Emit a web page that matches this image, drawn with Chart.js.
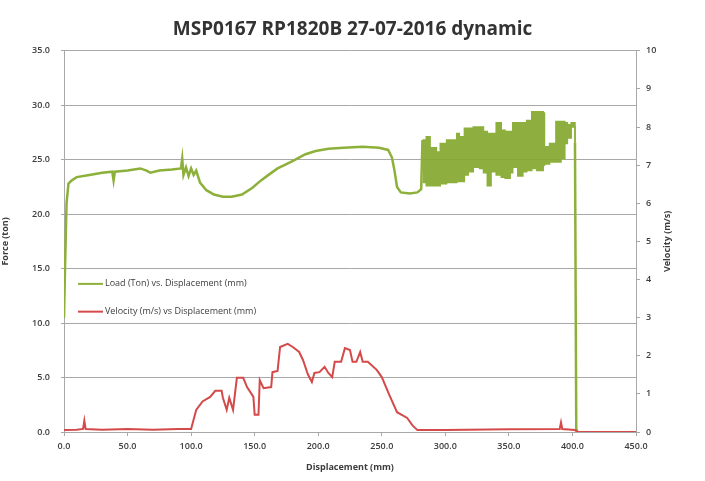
<!DOCTYPE html>
<html>
<head>
<meta charset="utf-8">
<script src="https://cdn.jsdelivr.net/npm/chart.js@4.4.0/dist/chart.umd.min.js"></script>
<style>
  html, body { margin: 0; padding: 0; background: #fff; }
  #wrap { position: relative; width: 705px; height: 481px; }
</style>
</head>
<body>
<div id="wrap"><canvas id="chart"></canvas></div>
<script>
// Load (ton) vs displacement (mm) - smooth part before the noisy section
const loadDisp = [0, 0.8, 2, 3.5, 6, 10, 20, 30, 38, 39, 40, 50, 60, 65, 68, 75, 85, 92, 93, 94, 96, 98, 100, 102, 104,
  107, 112, 118, 125, 132, 140, 148, 155, 162, 168, 175, 182, 190, 198, 208, 220, 235, 248, 255, 258, 260, 262, 265,
  272, 278, 281, 282];
const loadTon = [10.5, 15.0, 21.0, 22.8, 23.1, 23.4, 23.6, 23.8, 23.9, 23.1, 23.9, 24.0, 24.2, 24.0, 23.8, 24.0, 24.1, 24.2, 25.1, 23.6, 24.3, 23.5, 24.2, 23.6, 24.0,
  22.9, 22.2, 21.8, 21.6, 21.6, 21.8, 22.4, 23.1, 23.7, 24.2, 24.6, 25.0, 25.5, 25.8, 26.0, 26.1, 26.2, 26.1, 25.9, 25.2, 24.0, 22.5, 22.0,
  21.9, 22.0, 22.3, 26.8];

// noisy section, upper and lower envelope
const bandDisp = [282, 285, 288, 293, 296, 301, 309, 311, 315, 318, 322, 327, 330, 333, 336, 340, 344, 347, 351, 353,
  357, 361, 364, 368, 372, 377, 378, 382, 385, 387, 391, 394, 396, 399, 402];
const bandHigh = [26.8, 27.1, 26.1, 25.7, 26.5, 26.8, 27.4, 27.1, 27.9, 27.9, 28.0, 28.0, 27.6, 27.4, 27.4, 28.4, 27.7, 27.6, 27.6, 28.4,
  28.4, 28.4, 28.6, 29.4, 29.4, 29.3, 26.2, 26.5, 26.5, 28.5, 28.5, 28.4, 28.2, 28.4, 26.6];
const bandLow = [22.9, 22.6, 22.6, 22.6, 22.8, 22.9, 23.0, 23.0, 23.6, 23.9, 24.3, 24.2, 23.8, 22.6, 23.9, 23.6, 23.4, 23.3, 23.8, 24.3,
  23.5, 23.9, 24.0, 24.2, 24.0, 24.5, 24.6, 24.8, 24.8, 24.8, 25.1, 26.5, 27.0, 28.0, 26.6];

// drop at the end of the test
const tailDisp = [402, 403, 404];
const tailTon = [26.6, 0.3, 0];

// Velocity (m/s) vs displacement (mm)
const velDisp = [0, 10, 15, 16, 17, 30, 50, 70, 90, 100, 104, 109, 115, 119, 124, 125, 128, 130, 133, 136, 141, 144, 149,
  150, 153, 154, 157, 163, 164, 168, 170, 176, 180, 185, 188, 192, 195, 197, 201, 205, 208, 211, 213, 218, 221, 225,
  227, 230, 233, 235, 239, 246, 250, 256, 262, 270, 274, 278, 300, 350, 390, 391, 392, 402, 404, 450];
const velocity = [0.05, 0.06, 0.08, 0.3, 0.08, 0.06, 0.08, 0.06, 0.08, 0.08, 0.58, 0.8, 0.92, 1.08, 1.08, 0.9, 0.58, 0.9, 0.58, 1.42, 1.42, 1.18, 0.92,
  0.45, 0.45, 1.36, 1.15, 1.18, 1.57, 1.6, 2.23, 2.31, 2.23, 2.1, 1.89, 1.5, 1.31, 1.55, 1.57, 1.71, 1.55, 1.44, 1.84, 1.84, 2.2, 2.15,
  1.84, 1.84, 2.1, 1.84, 1.84, 1.63, 1.44, 0.97, 0.52, 0.37, 0.18, 0.05, 0.05, 0.07, 0.08, 0.25, 0.08, 0.05, 0, 0];

// tick labels
const dispTicks = [0, 50, 100, 150, 200, 250, 300, 350, 400, 450];
const forceTicks = [0, 5, 10, 15, 20, 25, 30, 35];
const velTicks = [0, 1, 2, 3, 4, 5, 6, 7, 8, 9, 10];

const GREEN = '#8cb03a';
const RED = '#d44a4a';
const GRID = '#a8a8a8';
const TEXT = '#3c3c3c';
const FONT = 'Open Sans';

const pts = (xs, ys) => xs.map((x, i) => ({ x: x, y: ys[i] }));

// legend inside the plot + right axis title reading bottom-up
const overlayPlugin = {
  id: 'overlay',
  afterDraw(chart) {
    const { ctx, chartArea, scales } = chart;
    const items = [
      { text: 'Load (Ton) vs. Displacement (mm)', color: GREEN, y: scales.y.getPixelForValue(13.6) },
      { text: 'Velocity (m/s) vs Displacement (mm)', color: RED, y: scales.y.getPixelForValue(11.05) }
    ];
    ctx.save();
    ctx.font = '9px "' + FONT + '"';
    ctx.textBaseline = 'middle';
    items.forEach(it => {
      ctx.strokeStyle = it.color;
      ctx.lineWidth = 2;
      ctx.beginPath();
      ctx.moveTo(chartArea.left + 14, it.y);
      ctx.lineTo(chartArea.left + 39, it.y);
      ctx.stroke();
      ctx.fillStyle = TEXT;
      ctx.fillText(it.text, chartArea.left + 41, it.y);
    });
    ctx.translate(chartArea.right + 31, (chartArea.top + chartArea.bottom) / 2);
    ctx.rotate(-Math.PI / 2);
    ctx.textAlign = 'center';
    ctx.font = 'bold 9px "' + FONT + '"';
    ctx.fillText('Velocity (m/s)', 0, 0);
    ctx.restore();
  }
};

new Chart(document.getElementById('chart'), {
  type: 'line',
  data: {
    datasets: [
      {
        label: 'Velocity (m/s) vs Displacement (mm)',
        data: pts(velDisp, velocity),
        yAxisID: 'y1',
        borderColor: RED,
        borderWidth: 2,
        pointRadius: 0,
        tension: 0
      },
      {
        label: 'Load (Ton) vs. Displacement (mm)',
        data: pts(loadDisp, loadTon),
        yAxisID: 'y',
        borderColor: GREEN,
        borderWidth: 2.5,
        pointRadius: 0,
        tension: 0
      },
      {
        label: 'load low',
        data: pts(bandDisp, bandLow),
        yAxisID: 'y',
        borderColor: GREEN,
        borderWidth: 1.5,
        pointRadius: 0,
        stepped: true
      },
      {
        label: 'load high',
        data: pts(bandDisp, bandHigh),
        yAxisID: 'y',
        borderColor: GREEN,
        backgroundColor: 'rgba(132,168,48,0.92)',
        borderWidth: 1.5,
        pointRadius: 0,
        stepped: true,
        fill: '-1'
      },
      {
        label: 'load tail',
        data: pts(tailDisp, tailTon),
        yAxisID: 'y',
        borderColor: GREEN,
        borderWidth: 2.5,
        pointRadius: 0
      }
    ]
  },
  options: {
    responsive: true,
    maintainAspectRatio: false,
    animation: false,
    layout: { padding: 0 },
    plugins: {
      legend: { display: false },
      tooltip: { enabled: false },
      title: {
        display: true,
        text: 'MSP0167 RP1820B 27-07-2016 dynamic',
        color: '#333',
        font: { family: FONT, size: 19, weight: 'bold' },
        padding: { top: 18, bottom: 10 }
      }
    },
    scales: {
      x: {
        type: 'linear',
        min: 0,
        max: 450,
        afterBuildTicks: s => { s.ticks = dispTicks.map(v => ({ value: v })); },
        afterFit: s => { s.height = 49; },
        grid: { drawOnChartArea: false, drawTicks: true, tickLength: 4, color: GRID },
        border: { color: GRID },
        ticks: {
          color: TEXT,
          padding: 5,
          maxRotation: 0,
          font: { family: FONT, size: 9, weight: '600' },
          callback: v => v.toFixed(1)
        },
        title: {
          display: true,
          text: 'Displacement (mm)',
          color: TEXT,
          font: { family: FONT, size: 9, weight: 'bold' },
          padding: { top: 0, bottom: 8 }
        }
      },
      y: {
        position: 'left',
        min: 0,
        max: 35,
        afterBuildTicks: s => { s.ticks = forceTicks.map(v => ({ value: v })); },
        afterFit: s => { s.width = 64; },
        grid: { color: GRID, tickLength: 3 },
        border: { color: GRID },
        ticks: {
          color: TEXT,
          padding: 11,
          font: { family: FONT, size: 9, weight: '600' },
          callback: v => v.toFixed(1)
        },
        title: {
          display: true,
          text: 'Force (ton)',
          color: TEXT,
          font: { family: FONT, size: 9, weight: 'bold' },
          padding: { top: 0, bottom: 16 }
        }
      },
      y1: {
        position: 'right',
        min: 0,
        max: 10,
        afterBuildTicks: s => { s.ticks = velTicks.map(v => ({ value: v })); },
        afterFit: s => { s.width = 69; },
        grid: { drawOnChartArea: false, tickLength: 4, color: GRID },
        border: { color: GRID },
        ticks: {
          color: TEXT,
          padding: 6,
          font: { family: FONT, size: 9, weight: '600' },
          callback: v => String(v)
        }
      }
    }
  },
  plugins: [overlayPlugin]
});
</script>
</body>
</html>
